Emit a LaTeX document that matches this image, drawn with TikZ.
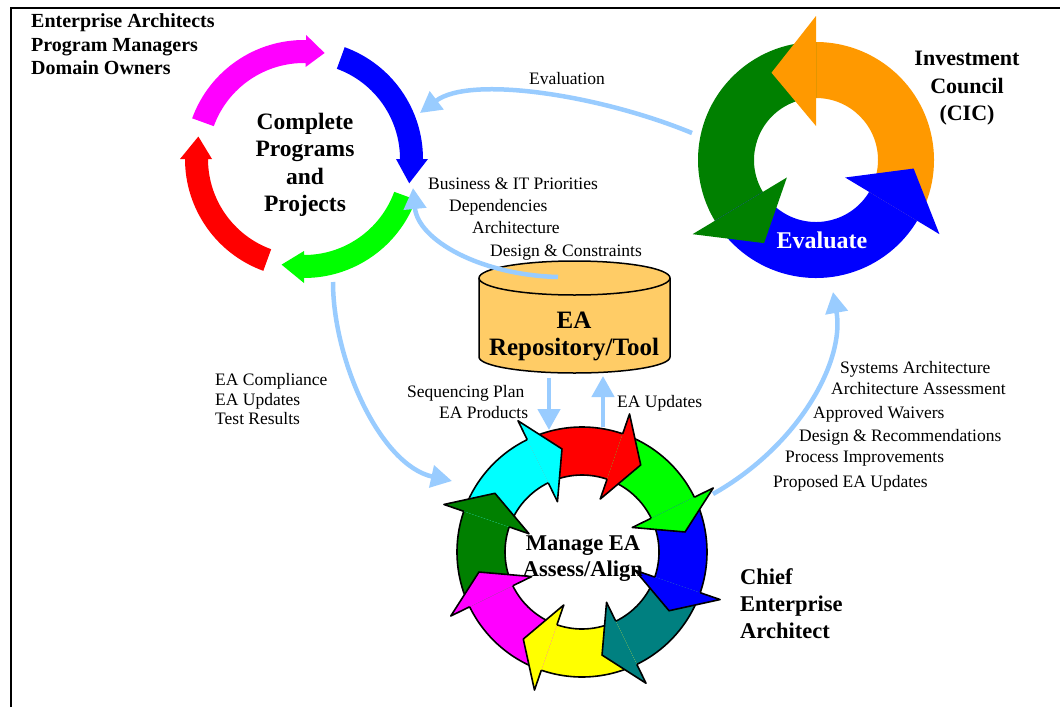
\documentclass[tikz,border=0pt]{standalone}
\usepackage{fontspec}
\setmainfont{Liberation Serif}
\usetikzlibrary{arrows.meta}
\definecolor{lb}{RGB}{153,204,255}
\definecolor{cylfill}{RGB}{255,204,102}
\definecolor{orng}{RGB}{255,153,0}
\definecolor{dkgreen}{RGB}{0,128,0}
\definecolor{tealc}{RGB}{0,128,128}
\definecolor{magc}{RGB}{255,0,255}
\definecolor{cync}{RGB}{0,255,255}
\definecolor{yelc}{RGB}{255,255,0}
\definecolor{grnc}{RGB}{0,255,0}
\definecolor{redc}{RGB}{255,0,0}
\definecolor{bluc}{RGB}{0,0,255}
% circle 1 arc arrow: colour, start, base, tip
\newcommand\cpparc[4]{\fill[#1] (#2:119) arc[start angle=#2, end angle=#3, radius=119] -- (#3:124) -- (#4:108) -- (#3:92) -- (#3:96) arc[start angle=#3, end angle=#2, radius=96] -- cycle;}
% circle 2 band and head
\newcommand\evband[3]{\fill[#1] (#2:118) arc[start angle=#2, end angle=#3, radius=118] -- (#3:62) arc[start angle=#3, end angle=#2, radius=62] -- cycle;}
\newcommand\evhead[3]{\fill[#1] (#2:144) -- (#3:98) -- (#2:34) -- cycle;}
% circle 3 band and head (outlined)
\newcommand\maband[3]{\fill[#1] (#2:125) arc[start angle=#2, end angle=#3, radius=125] -- (#3:77) arc[start angle=#3, end angle=#2, radius=77] -- cycle;
  \draw[outl] (#2:125) arc[start angle=#2, end angle=#3, radius=125];
  \draw[outl] (#2:77) arc[start angle=#2, end angle=#3, radius=77];}
\newcommand\mahead[3]{\fill[#1] (#2:146) -- (#3:105) -- (#2:56) -- cycle;
  \draw[outl] (#2:125) -- (#2:146) -- (#3:105) -- (#2:56) -- (#2:77);}
\begin{document}
\begin{tikzpicture}[x=1pt,y=1pt,
  outl/.style={draw=black, line width=1.6pt, line join=round},
  conn/.style={draw=lb, line width=4.5pt, -{Triangle[length=21pt,width=22pt]}},
  lbl/.style={font=\fontsize{17.5}{21}\selectfont, inner sep=0pt, anchor=base west},
  big/.style={font=\fontsize{23.5}{27.5}\selectfont\bfseries, inner sep=0pt, align=center},
]
\useasboundingbox (0,0) rectangle (1060,-707);
\fill[white] (0,0) rectangle (1060,-707);
\draw[line width=2pt] (11,-707) -- (11,-8.3) -- (1060,-8.3);

% circle 1: Complete Programs and Projects
\begin{scope}[shift={(304,-159)}]
  \cpparc{magc}{160}{89}{79}
  \cpparc{bluc}{70}{0}{-13}
  \cpparc{grnc}{-20}{-90}{-102}
  \cpparc{redc}{-110}{-180}{-192}
\end{scope}

% circle 2: Evaluate
\begin{scope}[shift={(816,-160)}]
  \evband{orng}{-31}{90}
  \evband{dkgreen}{90}{211}
  \evband{bluc}{211}{329}
  \evhead{orng}{90}{117}
  \evhead{dkgreen}{211}{238}
  \evhead{bluc}{329}{355}
\end{scope}

% cylinder
\filldraw[fill=cylfill, line width=1.5pt] (479,-278) -- (479,-357)
  arc[start angle=180, end angle=360, x radius=95.5, y radius=16] -- (670,-278)
  arc[start angle=0, end angle=180, x radius=95.5, y radius=17] -- cycle;
\draw[line width=1.5pt] (479,-278) arc[start angle=180, end angle=360, x radius=95.5, y radius=17];

% connector end points
\coordinate (evA) at (692,-133);
\coordinate (evB) at (420,-113);
\coordinate (rpA) at (558,-277);
\coordinate (rpB) at (413,-188);
\coordinate (ccA) at (333,-282);
\coordinate (ccB) at (452,-481);
\coordinate (sqA) at (549,-378);
\coordinate (sqB) at (549,-430);
\coordinate (euA) at (603,-427);
\coordinate (euB) at (603,-376);
\coordinate (caA) at (713,-494);
\coordinate (caB) at (833,-292);

\draw[conn] (evA) .. controls (600,-95) and (470,-75) .. (evB);
\draw[conn] (rpA) .. controls (480,-275) and (418,-240) .. (rpB);
\draw[conn] (ccA) .. controls (333,-360) and (380,-465) .. (ccB);
\draw[conn] (sqA) -- (sqB);
\draw[conn] (euA) -- (euB);
\draw[conn] (caA) .. controls (800,-445) and (845,-360) .. (caB);

% circle 3: Manage EA
\begin{scope}[shift={(582,-552)}]
  \maband{redc}{116}{71}
  \maband{grnc}{71}{26}
  \maband{bluc}{26}{-19}
  \maband{tealc}{-19}{-64}
  \maband{yelc}{-64}{-109}
  \maband{magc}{-109}{-154}
  \maband{dkgreen}{-154}{-199}
  \maband{cync}{-199}{-244}
  \mahead{redc}{71}{56}
  \mahead{grnc}{26}{11}
  \mahead{bluc}{-19}{-34}
  \mahead{tealc}{-64}{-79}
  \mahead{yelc}{-109}{-124}
  \mahead{magc}{-154}{-169}
  \mahead{dkgreen}{-199}{-214}
  \mahead{cync}{-244}{-259}
\end{scope}

% big labels
\node[big] (cpp) at (305,-165) {Complete\\Programs\\and\\Projects};
\node[big, font=\fontsize{22}{27.5}\selectfont\bfseries] (cic) at (967,-88.5) {Investment\\Council\\(CIC)};
\node[big, text=white, font=\fontsize{24}{28}\selectfont\bfseries] (evl) at (822,-240) {Evaluate};
\node[big, font=\fontsize{25}{27}\selectfont\bfseries] (repo) at (574,-336) {EA\\Repository/Tool};
\node[big, font=\fontsize{22.5}{26}\selectfont\bfseries] (mea) at (583,-559) {Manage EA\\Assess/Align};
\node[big, align=left, anchor=west, font=\fontsize{22.5}{27}\selectfont\bfseries] (cea) at (740,-604) {Chief\\Enterprise\\Architect};
\node[big, align=left, anchor=west, font=\fontsize{20}{23.5}\selectfont\bfseries] (roles) at (31,-44.5) {Enterprise Architects\\Program Managers\\Domain Owners};

% small labels
\node[lbl, anchor=base] (evaltxt) at (567,-84) {Evaluation};
\node[lbl] (b1) at (428,-189) {Business \& IT Priorities};
\node[lbl] (b2) at (449,-211) {Dependencies};
\node[lbl] (b3) at (472,-233) {Architecture};
\node[lbl] (b4) at (490,-256) {Design \& Constraints};
\node[lbl] (s1) at (407,-397) {Sequencing Plan};
\node[lbl] (s2) at (439,-418) {EA Products};
\node[lbl] (u1) at (617,-407) {EA Updates};
\node[lbl] (c1) at (215,-385) {EA Compliance};
\node[lbl] (c2) at (215,-405) {EA Updates};
\node[lbl] (c3) at (215,-424) {Test Results};
\node[lbl] (r1) at (840,-373) {Systems Architecture};
\node[lbl] (r2) at (831,-394) {Architecture Assessment};
\node[lbl] (r3) at (813,-418) {Approved Waivers};
\node[lbl] (r4) at (799,-441) {Design \& Recommendations};
\node[lbl] (r5) at (785,-462) {Process Improvements};
\node[lbl] (r6) at (773,-487) {Proposed EA Updates};
\end{tikzpicture}
\end{document}
